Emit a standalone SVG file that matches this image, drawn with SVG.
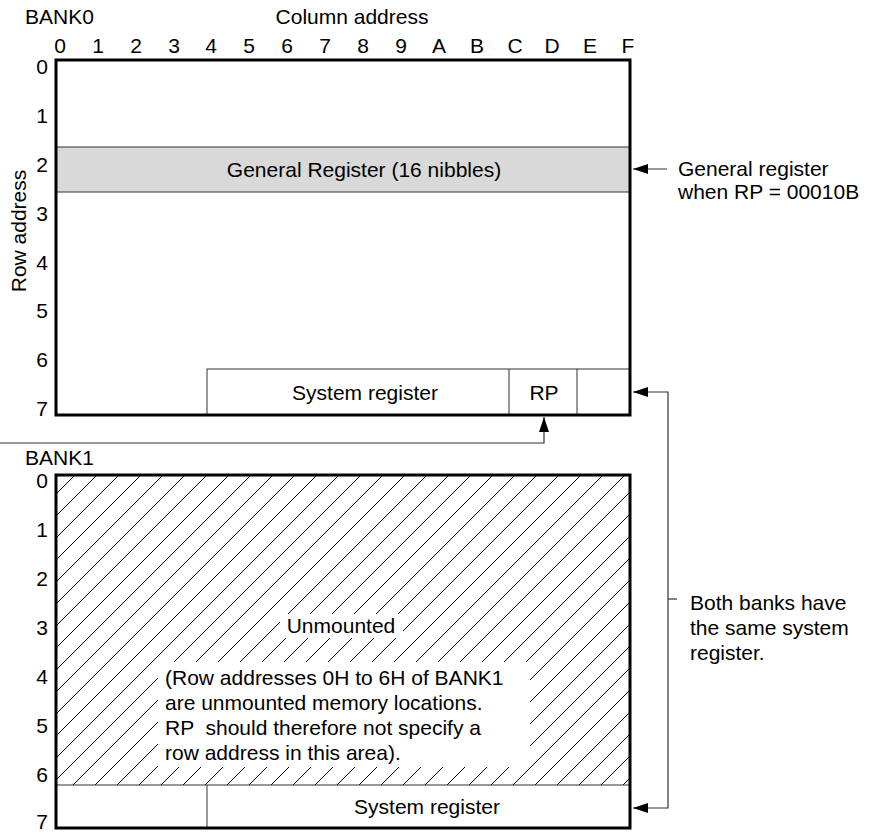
<svg xmlns="http://www.w3.org/2000/svg" width="869" height="833" viewBox="0 0 869 833">
<style>
text{font-family:"Liberation Sans",Arial,sans-serif;font-size:21px;fill:#000}
.mid{text-anchor:middle}
.end{text-anchor:end}
.outer{fill:none;stroke:#000;stroke-width:3}
.inner{fill:#fff;stroke:#333;stroke-width:1}
.conn{fill:none;stroke:#333;stroke-width:1.2}
</style>
<defs>
<marker id="ah" markerUnits="userSpaceOnUse" markerWidth="15" markerHeight="10" refX="15" refY="5" orient="auto">
<path d="M0,0 L15,5 L0,10 z" fill="#000"/>
</marker>
<pattern id="hatch" patternUnits="userSpaceOnUse" width="22" height="22">
<path d="M0,22 L22,0 M-11,11 L11,-11 M11,33 L33,11" stroke="#000" stroke-width="1"/>
</pattern>
</defs>

<g id="axis-labels">
<text x="25" y="24">BANK0</text>
<text class="mid" x="352" y="24">Column address</text>
<g class="mid">
<text class="mid" x="60" y="53">0</text>
<text class="mid" x="98" y="53">1</text>
<text class="mid" x="136" y="53">2</text>
<text class="mid" x="174" y="53">3</text>
<text class="mid" x="211" y="53">4</text>
<text class="mid" x="249" y="53">5</text>
<text class="mid" x="287" y="53">6</text>
<text class="mid" x="325" y="53">7</text>
<text class="mid" x="363" y="53">8</text>
<text class="mid" x="401" y="53">9</text>
<text class="mid" x="439" y="53">A</text>
<text class="mid" x="477" y="53">B</text>
<text class="mid" x="515" y="53">C</text>
<text class="mid" x="552" y="53">D</text>
<text class="mid" x="590" y="53">E</text>
<text class="mid" x="628" y="53">F</text>
</g>
<text class="mid" transform="translate(26,231) rotate(-90)">Row address</text>
<text class="end" x="48" y="74">0</text>
<text class="end" x="48" y="123">1</text>
<text class="end" x="48" y="172">2</text>
<text class="end" x="48" y="221">3</text>
<text class="end" x="48" y="270">4</text>
<text class="end" x="48" y="318">5</text>
<text class="end" x="48" y="367">6</text>
<text class="end" x="48" y="416">7</text>
<text x="25" y="465">BANK1</text>
<text class="end" x="48" y="488">0</text>
<text class="end" x="48" y="537">1</text>
<text class="end" x="48" y="586">2</text>
<text class="end" x="48" y="635">3</text>
<text class="end" x="48" y="684">4</text>
<text class="end" x="48" y="733">5</text>
<text class="end" x="48" y="782">6</text>
<text class="end" x="48" y="829">7</text>
</g>

<g id="bank0">
<rect x="56" y="60" width="574" height="355" fill="#fff"/>
<g id="general-register">
<rect x="56" y="147" width="574" height="45" fill="#d9d9d9" stroke="#333" stroke-width="1"/>
<text class="mid" x="364" y="177">General Register (16 nibbles)</text>
</g>
<g id="bank0-system-register">
<rect class="inner" x="207" y="369" width="423" height="46"/>
<line x1="509" y1="369" x2="509" y2="415" stroke="#333" stroke-width="1"/>
<line x1="577" y1="369" x2="577" y2="415" stroke="#333" stroke-width="1"/>
<text class="mid" x="365" y="400">System register</text>
</g>
<g id="rp">
<text class="mid" x="544" y="400">RP</text>
</g>
<rect class="outer" x="56" y="60" width="574" height="355"/>
</g>

<g id="bank1">
<rect x="56" y="475" width="574" height="310" fill="url(#hatch)"/>
<g id="unmounted">
<rect x="280" y="614" width="123" height="24" fill="#fff"/>
<text class="mid" x="341" y="633">Unmounted</text>
<rect x="158" y="662" width="372" height="105" fill="#fff"/>
<text x="165" y="685">(Row addresses 0H to 6H of BANK1</text>
<text x="165" y="710">are unmounted memory locations.</text>
<text x="165" y="735" xml:space="preserve">RP  should therefore not specify a</text>
<text x="165" y="760">row address in this area).</text>
</g>
<g id="bank1-system-register">
<rect class="inner" x="56" y="785" width="574" height="43"/>
<line x1="207" y1="785" x2="207" y2="828" stroke="#333" stroke-width="1"/>
<text class="mid" x="427" y="814">System register</text>
</g>
<rect class="outer" x="56" y="475" width="574" height="353"/>
</g>

<g id="notes">
<text x="678" y="176">General register</text>
<text x="678" y="199">when RP = 00010B</text>
<text x="690" y="610">Both banks have</text>
<text x="690" y="635">the same system</text>
<text x="690" y="660">register.</text>
</g>

<g id="connectors">
<path class="conn" d="M667,169 H633" marker-end="url(#ah)"/>
<path class="conn" d="M0,443 H544 V417" marker-end="url(#ah)"/>
<path class="conn" d="M668,600 V392 H633" marker-end="url(#ah)"/>
<path class="conn" d="M668,600 V808 H633" marker-end="url(#ah)"/>
<path class="conn" d="M668,599 H677"/>
</g>
</svg>
